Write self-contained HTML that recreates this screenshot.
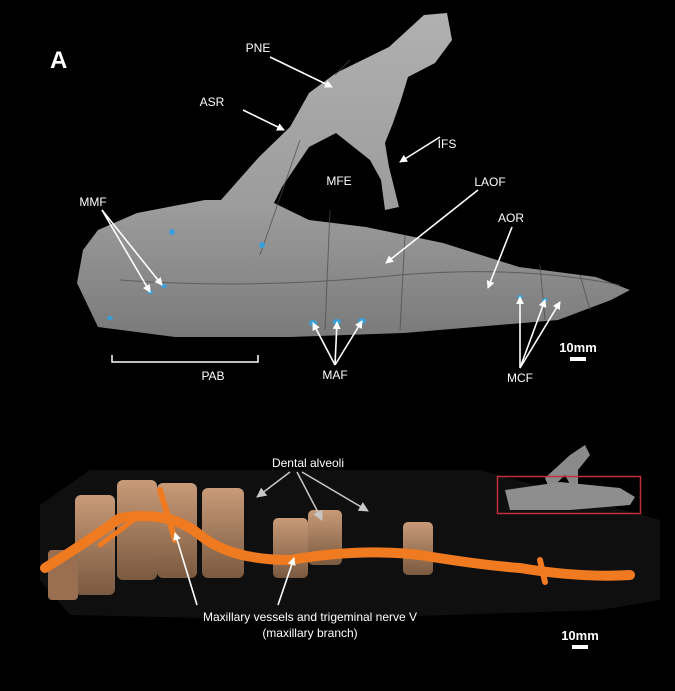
<!DOCTYPE html>
<html><head><style>
body{margin:0;background:#000;}
svg{display:block}
text{font-family:"Liberation Sans",sans-serif;fill:#fff}
</style></head><body>
<svg width="675" height="691" viewBox="0 0 675 691" xmlns="http://www.w3.org/2000/svg">
<defs>
<marker id="ah" markerWidth="8" markerHeight="8" refX="7" refY="4" orient="auto" markerUnits="userSpaceOnUse"><path d="M0,0 L8,4 L0,8 z" fill="#fff"/></marker>
<marker id="ag" markerWidth="10" markerHeight="10" refX="9" refY="5" orient="auto" markerUnits="userSpaceOnUse"><path d="M0,0 L10,5 L0,10 z" fill="#c8c8c8"/></marker>
<linearGradient id="bone" x1="0" y1="0" x2="0" y2="1"><stop offset="0" stop-color="#b0b0b0"/><stop offset="0.6" stop-color="#9c9c9c"/><stop offset="1" stop-color="#7a7a7a"/></linearGradient>
<linearGradient id="tooth" x1="0" y1="0" x2="0" y2="1"><stop offset="0" stop-color="#c89a78"/><stop offset="1" stop-color="#7a5a40"/></linearGradient>
</defs>
<rect width="675" height="691" fill="#000"/>
<!-- Panel A -->
<text x="50" y="68" font-size="24" font-weight="bold">A</text>
<path d="M98,230 L137,213 L205,200 L221,200 L259,157 L290,127 L309,93 L336,73 L389,47 L424,15 L447,13 L452,40 L435,63 L408,77 L401,100 L393,123 L385,143 L389,167 L399,207 L385,210 L381,180 L370,160 L336,133 L309,147 L282,187 L274,203 L309,220 L366,227 L443,243 L519,267 L596,277 L630,290 L611,300 L558,320 L404,333 L290,337 L175,337 L98,327 L77,283 L83,250 Z" fill="url(#bone)"/>
<g stroke="#4a4a4a" stroke-width="1" fill="none" opacity="0.7">
<path d="M260,255 L300,140"/><path d="M330,210 L325,330"/><path d="M405,235 L400,330"/><path d="M540,265 L545,320"/><path d="M580,275 L590,310"/>
<path d="M120,280 Q250,290 400,275 Q520,265 620,285"/><path d="M335,75 L350,60"/>
</g>
<g fill="#3aa0d8">
<ellipse cx="172" cy="232" rx="3" ry="3"/><ellipse cx="262" cy="245" rx="3" ry="3"/><ellipse cx="150" cy="292" rx="3" ry="2"/><ellipse cx="164" cy="286" rx="3" ry="2"/><ellipse cx="110" cy="318" rx="3" ry="2"/><ellipse cx="313" cy="323" rx="4" ry="3"/><ellipse cx="337" cy="322" rx="4" ry="3"/><ellipse cx="362" cy="321" rx="4" ry="3"/><ellipse cx="520" cy="297" rx="3" ry="2"/><ellipse cx="545" cy="300" rx="3" ry="2"/>
</g>
<g stroke="#fff" stroke-width="1.6" fill="none" marker-end="url(#ah)">
<line x1="270" y1="57" x2="332" y2="87"/>
<line x1="243" y1="110" x2="284" y2="130"/>
<line x1="440" y1="137" x2="400" y2="162"/>
<line x1="478" y1="190" x2="386" y2="263"/>
<line x1="512" y1="227" x2="488" y2="288"/>
<line x1="102" y1="210" x2="150" y2="292"/>
<line x1="102" y1="210" x2="162" y2="285"/>
<line x1="335" y1="365" x2="313" y2="323"/>
<line x1="335" y1="365" x2="337" y2="322"/>
<line x1="335" y1="365" x2="362" y2="321"/>
<line x1="520" y1="368" x2="520" y2="297"/>
<line x1="520" y1="368" x2="545" y2="300"/>
<line x1="520" y1="368" x2="560" y2="302"/>
</g>
<g font-size="12" text-anchor="middle">
<text x="258" y="52">PNE</text><text x="212" y="106">ASR</text><text x="447" y="148">IFS</text><text x="339" y="185">MFE</text><text x="490" y="186">LAOF</text><text x="511" y="222">AOR</text><text x="93" y="206">MMF</text><text x="213" y="380">PAB</text><text x="335" y="379">MAF</text><text x="520" y="382">MCF</text>
</g>
<path d="M112,355 L112,362 L258,362 L258,355" stroke="#fff" stroke-width="1.5" fill="none"/>
<text x="578" y="352" font-size="13" font-weight="bold" text-anchor="middle">10mm</text>
<rect x="570" y="357" width="16" height="4" fill="#fff"/>
<!-- Panel B -->
<path d="M40,505 L90,470 L480,470 L660,520 L660,600 L600,610 L300,620 L70,615 L40,580 Z" fill="#0f0f0f"/>
<text x="50" y="568" font-size="24" font-weight="bold">B</text>
<g fill="url(#tooth)">
<rect x="75" y="495" width="40" height="100" rx="6"/>
<rect x="117" y="480" width="40" height="100" rx="6"/>
<rect x="157" y="483" width="40" height="95" rx="6"/>
<rect x="202" y="488" width="42" height="90" rx="6"/>
<rect x="273" y="518" width="35" height="60" rx="5"/>
<rect x="308" y="510" width="34" height="55" rx="5"/>
<rect x="403" y="522" width="30" height="53" rx="5"/>
<rect x="48" y="550" width="30" height="50" rx="4" fill="#9a6e50"/>
</g>
<g stroke="#f07a20" fill="none" stroke-linecap="round">
<path d="M45,568 Q90,540 120,518 Q170,510 200,535 Q230,560 290,560 Q360,548 420,555 Q480,565 520,568 Q580,578 630,575" stroke-width="10"/>
<path d="M160,490 L175,540" stroke-width="6"/>
<path d="M140,515 L100,545" stroke-width="5"/>
<path d="M540,560 L545,582" stroke-width="6"/>
</g>
<g stroke="#c8c8c8" stroke-width="1.5" fill="none" marker-end="url(#ag)">
<line x1="290" y1="472" x2="257" y2="497"/>
<line x1="297" y1="472" x2="322" y2="520"/>
<line x1="302" y1="472" x2="368" y2="511"/>
</g>
<g stroke="#fff" stroke-width="1.6" fill="none" marker-end="url(#ah)">
<line x1="197" y1="605" x2="175" y2="533"/>
<line x1="278" y1="605" x2="294" y2="558"/>
</g>
<text x="308" y="467" font-size="12" text-anchor="middle">Dental alveoli</text>
<text x="310" y="621" font-size="12" text-anchor="middle">Maxillary vessels and trigeminal nerve V</text>
<text x="310" y="637" font-size="12" text-anchor="middle">(maxillary branch)</text>
<text x="580" y="640" font-size="13" font-weight="bold" text-anchor="middle">10mm</text>
<rect x="572" y="645" width="16" height="4" fill="#fff"/>
<!-- inset -->
<path d="M545,478 L570,455 L585,445 L590,455 L578,470 L578,490 L573,490 L565,475 L550,490 Z" fill="#8a8a8a"/>
<path d="M505,490 L560,482 L620,488 L635,497 L630,505 L570,510 L510,510 Z" fill="#8e8e8e"/>
<rect x="497.5" y="476.5" width="143" height="37" fill="none" stroke="#c0303a" stroke-width="1.5"/>
</svg>
</body></html>
